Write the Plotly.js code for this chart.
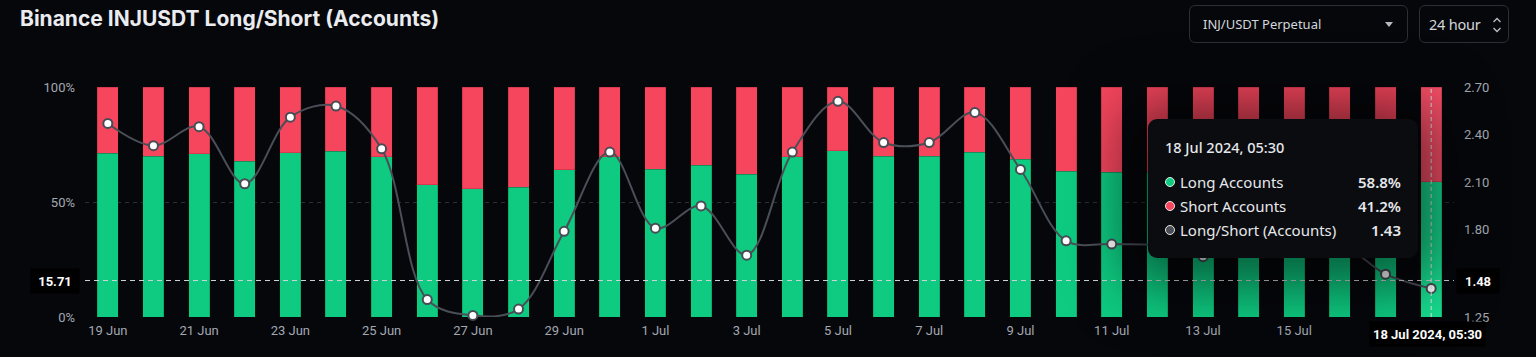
<!DOCTYPE html>
<html>
<head>
<meta charset="utf-8">
<script src="https://cdn.plot.ly/plotly-3.0.1.min.js"></script>
<style>
html,body{margin:0;padding:0;background:#06070b;}
#wrap{position:relative;width:1536px;height:357px;overflow:hidden;background:#06070b;}
#chart{position:absolute;left:0;top:0;width:1536px;height:357px;}
.sel{position:absolute;box-sizing:border-box;border:1px solid #2b2e35;border-radius:6px;color:#d3d6db;font-family:'Noto Sans',sans-serif;}
#sel1{left:1189px;top:5px;width:219px;height:38px;}
#sel1 .t{position:absolute;left:13px;top:0;line-height:36px;font-size:13px;}
#sel1 .caret{position:absolute;left:195px;top:16px;width:0;height:0;border-left:4.5px solid transparent;border-right:4.5px solid transparent;border-top:5px solid #b5b9c0;}
#sel2{left:1419px;top:5px;width:90px;height:38px;}
#sel2 .t{position:absolute;left:9px;top:0;line-height:36px;font-size:14.5px;letter-spacing:-0.2px;}
#sel2 svg{position:absolute;left:72px;top:10px;}
#tip{position:absolute;left:1148px;top:119px;width:270px;height:139px;box-sizing:border-box;background:#0b0c10;border-radius:9px;
 box-shadow:0 6px 60px 22px rgba(0,0,0,0.55);font-family:'Noto Sans',sans-serif;color:#e6e8eb;}
#tip .d{position:absolute;left:17px;top:18px;font-size:14.5px;font-weight:500;}
#tip .r{position:absolute;left:17px;width:236px;height:22px;font-size:15px;}
#tip .dot{position:absolute;left:0;top:6px;width:8px;height:8px;border-radius:50%;border:1.5px solid #e8e8e8;}
#tip .l{position:absolute;left:15px;top:0;line-height:22px;}
#tip .v{position:absolute;right:0;top:0;line-height:22px;font-weight:600;}
</style>
</head>
<body>
<div id="wrap">
<div id="chart"></div>
<div class="sel" id="sel1"><span class="t">INJ/USDT Perpetual</span><span class="caret"></span></div>
<div class="sel" id="sel2"><span class="t">24 hour</span>
<svg width="10" height="18" viewBox="0 0 10 18"><path d="M1.5 6 L5 2.5 L8.5 6" fill="none" stroke="#b5b9c0" stroke-width="1.4"/><path d="M1.5 12 L5 15.5 L8.5 12" fill="none" stroke="#b5b9c0" stroke-width="1.4"/></svg></div>
<div id="tip"></div>
</div>
<script>
const dates = ["19 Jun","20 Jun","21 Jun","22 Jun","23 Jun","24 Jun","25 Jun","26 Jun","27 Jun","28 Jun","29 Jun","30 Jun",
  "1 Jul","2 Jul","3 Jul","4 Jul","5 Jul","6 Jul","7 Jul","8 Jul","9 Jul","10 Jul","11 Jul","12 Jul","13 Jul","14 Jul","15 Jul","16 Jul","17 Jul","18 Jul"];
const longPct = [71.2,69.9,71.0,67.7,71.4,72.0,69.6,57.5,55.7,56.4,64.1,69.6,
  64.3,65.9,62.0,69.6,72.2,70.0,70.0,71.7,68.6,63.3,63.0,63.0,62.0,62.8,63.0,63.1,60.3,58.8];
const shortPct = [28.8,30.1,29.0,32.3,28.6,28.0,30.4,42.5,44.3,43.6,35.9,30.4,
  35.7,34.1,38.0,30.4,27.8,30.0,30.0,28.3,31.4,36.7,37.0,37.0,38.0,37.2,37.0,36.9,39.7,41.2];
const ratio = [2.47,2.33,2.45,2.09,2.51,2.58,2.31,1.36,1.26,1.30,1.79,2.29,
  1.81,1.95,1.64,2.29,2.61,2.35,2.35,2.54,2.18,1.73,1.71,1.70,1.63,1.69,1.70,1.71,1.52,1.43];
const xTickLabels = ["19 Jun","21 Jun","23 Jun","25 Jun","27 Jun","29 Jun","1 Jul","3 Jul","5 Jul","7 Jul","9 Jul","11 Jul","13 Jul","15 Jul"];
const y2Ticks = [1.25,1.80,2.10,2.40,2.70];
const crossLeft = "15.71", crossRight = 1.48, hoverLabel = "18 Jul 2024, 05:30";

const G = '#0ecb81', R = '#f6465d', GH = '#18dd90', RH = '#fb5069';
const last = dates.length - 1;
const gCols = dates.map((d,i)=> i===last ? GH : G);
const rCols = dates.map((d,i)=> i===last ? RH : R);

const traces = [
  {type:'bar', name:'Long Accounts', x:dates, y:longPct, marker:{color:gCols, line:{color:'rgba(0,60,30,0.35)', width:0.6}}, hoverinfo:'skip'},
  {type:'bar', name:'Short Accounts', x:dates, y:shortPct, marker:{color:rCols, line:{color:'rgba(90,0,20,0.3)', width:0.6}}, hoverinfo:'skip'},
  {type:'scatter', mode:'lines+markers', name:'Long/Short (Accounts)', x:dates, y:ratio, yaxis:'y2',
   line:{color:'#4a4e57', width:2, shape:'spline', smoothing:1},
   marker:{size:9, color:'#ffffff', line:{color:'#474c55', width:2}}, hoverinfo:'skip', cliponaxis:false}
];

const tickFont = {family:'Roboto, sans-serif', size:13, color:'#a3a8b1'};
const lblFont = {family:'Roboto, sans-serif', size:13, color:'#ffffff', weight:700};
const layout = {
  width:1536, height:357,
  margin:{l:85, r:82, t:87, b:40},
  paper_bgcolor:'#06070b', plot_bgcolor:'#06070b',
  barmode:'stack', bargap:0.54,
  showlegend:false,
  title:{text:'<b>Binance INJUSDT Long/Short (Accounts)</b>', font:{family:'Inter, sans-serif', size:21, color:'#eaecef'},
    x:20/1536, xref:'container', xanchor:'left', y:1-11/357, yref:'container', yanchor:'top'},
  xaxis:{type:'category', categoryorder:'array', categoryarray:dates, range:[-0.5, dates.length-0.5], autorange:false,
    tickvals:xTickLabels, ticktext:xTickLabels,
    showgrid:false, zeroline:false, showline:false, ticks:'', tickfont:tickFont, ticklabelstandoff:4, fixedrange:true},
  yaxis:{range:[0,100], autorange:false, tickvals:[0,50,100], ticktext:['0%','50%','100%'], showgrid:true, gridcolor:'#2a2e35', griddash:'4px,4px',
    gridwidth:1, zeroline:false, showline:false, tickfont:tickFont, ticklabelstandoff:9, fixedrange:true},
  yaxis2:{overlaying:'y', side:'right', range:[1.25,2.70], autorange:false, tickvals:y2Ticks, ticktext:y2Ticks.map(v=>v.toFixed(2)),
    showgrid:false, zeroline:false, showline:false, tickfont:tickFont, ticklabelstandoff:9, fixedrange:true},
  shapes:[
    {type:'line', layer:'above', xref:'paper', x0:0, x1:1, yref:'y2', y0:crossRight, y1:crossRight, line:{color:'#d0d3d8', width:1, dash:'5px,4px'}},
    {type:'line', layer:'above', xref:'x', x0:dates[last], x1:dates[last], yref:'paper', y0:0, y1:1, line:{color:'#e4e6e9', width:1, dash:'4px,3px'}}
  ],
  annotations:[
    {xref:'paper', x:-5/1369, xanchor:'right', yref:'y2', y:crossRight, yanchor:'middle', text:crossLeft, showarrow:false,
     bgcolor:'#000000', width:46, height:22, font:lblFont},
    {xref:'paper', x:1+2/1369, xanchor:'left', yref:'y2', y:crossRight, yanchor:'middle', text:crossRight.toFixed(2), showarrow:false,
     bgcolor:'#000000', width:40, height:22, font:lblFont},
    {xref:'x', x:dates[last], xanchor:'center', xshift:-4, yref:'paper', y:0, yanchor:'top', yshift:-4, text:hoverLabel, showarrow:false,
     bgcolor:'#000000', width:113, height:22, font:lblFont}
  ]
};

Plotly.newPlot('chart', traces, layout, {displayModeBar:false, staticPlot:true});

// tooltip built from the data
const tip = document.getElementById('tip');
const rows = [
  {c:G, l:'Long Accounts', v:longPct[last].toFixed(1)+'%'},
  {c:R, l:'Short Accounts', v:shortPct[last].toFixed(1)+'%'},
  {c:'#4a4e57', l:'Long/Short (Accounts)', v:ratio[last].toFixed(2)}
];
let html = '<div class="d">'+hoverLabel+'</div>';
rows.forEach((r,i)=>{
  html += '<div class="r" style="top:'+(52+i*24)+'px"><span class="dot" style="background:'+r.c+'"></span><span class="l">'+r.l+'</span><span class="v">'+r.v+'</span></div>';
});
tip.innerHTML = html;
</script>
</body>
</html>
